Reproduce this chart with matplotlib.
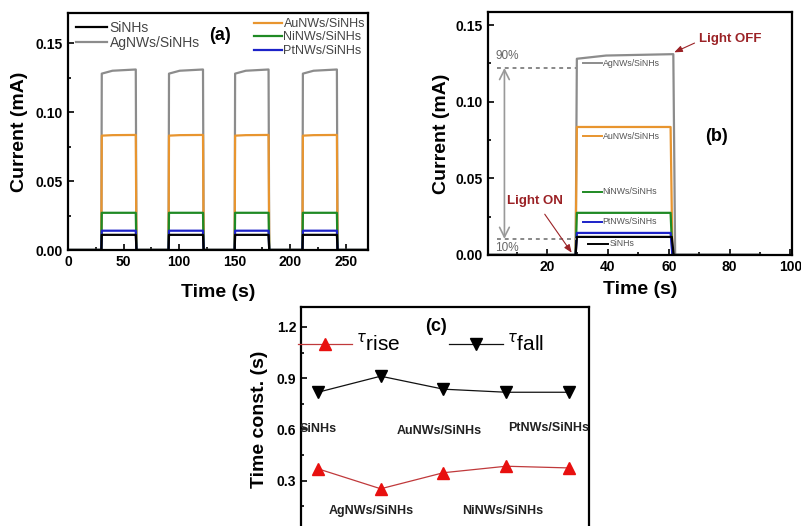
import matplotlib
matplotlib.use("Agg")
import matplotlib.pyplot as plt
from matplotlib.ticker import MultipleLocator, FixedLocator

plt.rcParams['font.family'] = ['Liberation Sans', 'DejaVu Sans']

# ---- data ----
samples = ["SiNHs", "AgNWs/SiNHs", "AuNWs/SiNHs", "NiNWs/SiNHs", "PtNWs/SiNHs"]
colors = ["#000000", "#8c8c8c", "#e8952f", "#1f8a24", "#1c22c8"]

# (a) repeated on/off cycles
on_times_a = [30, 90.5, 150, 211]
off_times_a = [61, 121.5, 180.5, 242]
level_start_a = [0.011, 0.128, 0.083, 0.027, 0.014]
level_end_a = [0.011, 0.131, 0.0835, 0.027, 0.014]
t_end_a = 270

# (b) single cycle
on_time_b = 29.4
off_times_b = [61.0, 61.5, 60.6, 60.6, 60.6]
level_start_b = [0.0118, 0.128, 0.0835, 0.0275, 0.0144]
level_end_b = [0.0118, 0.131, 0.0835, 0.0275, 0.0144]
t_end_b = 90
label_y_b = [0.0072, 0.125, 0.0776, 0.0411, 0.0216]
level_90 = 0.122
level_10 = 0.0105

# (c) time constants
x_c = [1, 2, 3, 4, 5]
tau_rise = [0.37, 0.253, 0.347, 0.385, 0.375]
tau_fall = [0.818, 0.912, 0.836, 0.818, 0.818]
cat_x = [1.0, 1.85, 2.94, 3.95, 4.68]
cat_y = [0.60, 0.12, 0.59, 0.125, 0.61]
cat_labels = ["SiNHs", "AgNWs/SiNHs", "AuNWs/SiNHs", "NiNWs/SiNHs", "PtNWs/SiNHs"]


def pulse_curve(ons, offs, lo, hi, t_end):
    t, y = [0], [0]
    for on, off in zip(ons, offs):
        t += [on, on + 0.4, on + 10, off, off + 0.6]
        y += [0, lo, hi - 0.3 * (hi - lo), hi, 0]
    t.append(t_end)
    y.append(0)
    return t, y


def style_axes(ax):
    for sp in ax.spines.values():
        sp.set_linewidth(1.6)
    ax.tick_params(which='both', direction='in', width=1.2, labelsize=10)
    ax.tick_params(which='major', length=4)
    ax.tick_params(which='minor', length=2.5)
    for lab in ax.get_xticklabels() + ax.get_yticklabels():
        lab.set_fontweight('bold')


fig = plt.figure(figsize=(8.01, 5.26), dpi=100)

# ---------------- (a) ----------------
ax_a = fig.add_axes([68 / 801, 1 - 250 / 526, 300 / 801, 237 / 526])
order = [1, 2, 3, 4, 0]
handles = {}
for i in order:
    t, y = pulse_curve(on_times_a, off_times_a, level_start_a[i], level_end_a[i], t_end_a)
    handles[i], = ax_a.plot(t, y, color=colors[i], lw=1.6, label=samples[i])
ax_a.set_xlim(0, 270)
ax_a.set_ylim(0, 0.172)
ax_a.xaxis.set_major_locator(MultipleLocator(50))
ax_a.xaxis.set_minor_locator(MultipleLocator(25))
ax_a.yaxis.set_major_locator(MultipleLocator(0.05))
ax_a.yaxis.set_minor_locator(MultipleLocator(0.025))
ax_a.yaxis.set_major_formatter(matplotlib.ticker.FormatStrFormatter('%.2f'))
style_axes(ax_a)
ax_a.set_xlabel("Time (s)", fontsize=14, fontweight='bold', labelpad=11)
ax_a.set_ylabel("Current (mA)", fontsize=14, fontweight='bold', labelpad=6)
leg1 = ax_a.legend([handles[0], handles[1]], [samples[0], samples[1]],
                   loc='upper left', bbox_to_anchor=(0.025, 0.968), frameon=False,
                   fontsize=10, handlelength=2.3, handletextpad=0.15,
                   labelspacing=0.1, borderpad=0, borderaxespad=0)
for tx in leg1.get_texts():
    tx.set_color('#444444')
ax_a.add_artist(leg1)
leg2 = ax_a.legend([handles[2], handles[3], handles[4]], samples[2:],
                   loc='upper right', bbox_to_anchor=(0.99, 0.979), frameon=False,
                   fontsize=9, handlelength=2.3, handletextpad=0.1,
                   labelspacing=0.12, borderpad=0, borderaxespad=0)
for tx in leg2.get_texts():
    tx.set_color('#444444')
ax_a.text(0.507, 0.905, "(a)", transform=ax_a.transAxes, ha='center', va='center',
          fontsize=13, fontweight='bold')

# ---------------- (b) ----------------
ax_b = fig.add_axes([488 / 801, 1 - 255 / 526, 304 / 801, 243 / 526])
for i in order:
    t, y = pulse_curve([on_time_b], [off_times_b[i]], level_start_b[i], level_end_b[i], t_end_b)
    ax_b.plot(t, y, color=colors[i], lw=1.6)
    ax_b.plot([31.8, 38.0] if i else [33.5, 40.0], [label_y_b[i]] * 2, color=colors[i], lw=1.4)
    ax_b.text(38.3 if i else 40.5, label_y_b[i], samples[i], fontsize=6.3, color='#555555',
              va='center', ha='left')
ax_b.set_xlim(0.6, 100.5)
ax_b.set_ylim(0, 0.1585)
ax_b.xaxis.set_major_locator(MultipleLocator(20))
ax_b.xaxis.set_minor_locator(MultipleLocator(10))
ax_b.yaxis.set_major_locator(MultipleLocator(0.05))
ax_b.yaxis.set_minor_locator(MultipleLocator(0.025))
ax_b.yaxis.set_major_formatter(matplotlib.ticker.FormatStrFormatter('%.2f'))
style_axes(ax_b)
ax_b.set_xlabel("Time (s)", fontsize=14, fontweight='bold', labelpad=5)
ax_b.set_ylabel("Current (mA)", fontsize=14, fontweight='bold', labelpad=4)

ax_b.plot([3.4, on_time_b], [level_90, level_90], ls=(0, (2, 2)), color='#888888', lw=1.4)
ax_b.plot([3.4, on_time_b], [level_10, level_10], ls=(0, (2, 2)), color='#888888', lw=1.4)
ax_b.annotate('', xy=(6, level_90), xytext=(6, level_10),
              arrowprops=dict(arrowstyle='<->,head_length=0.7,head_width=0.35',
                              color='#999999', lw=1.2, shrinkA=0, shrinkB=0))
ax_b.text(3.0, 0.1295, "90%", fontsize=8.5, color='#666666', va='center', ha='left')
ax_b.text(3.0, 0.0045, "10%", fontsize=8.5, color='#666666', va='center', ha='left')
ax_b.annotate("Light ON", xy=(28.1, 0.0015), xytext=(7.0, 0.0353),
              fontsize=9.5, fontweight='bold', color='#9b2226', va='center', ha='left',
              arrowprops=dict(arrowstyle='-|>,head_length=0.5,head_width=0.2',
                              color='#9b2226', lw=0.8, shrinkA=4, shrinkB=0))
ax_b.annotate("Light OFF", xy=(61.8, 0.1322), xytext=(69.8, 0.141),
              fontsize=9.5, fontweight='bold', color='#9b2226', va='center', ha='left',
              arrowprops=dict(arrowstyle='-|>,head_length=0.5,head_width=0.2',
                              color='#9b2226', lw=0.8, shrinkA=1, shrinkB=0,
                              relpos=(0, 0.3)))
ax_b.text(75.6, 0.077, "(b)", fontsize=13, fontweight='bold', ha='center', va='center')

# ---------------- (c) ----------------
ax_c = fig.add_axes([301 / 801, 1 - 532 / 526, 288 / 801, 225 / 526])
ax_c.plot(x_c, tau_rise, color='#c0393b', lw=0.9, marker='^', ms=9,
          mfc='#e8100f', mec='#e8100f', label=r'$^{\tau}$rise')
ax_c.plot(x_c, tau_fall, color='#111111', lw=0.9, marker='v', ms=9,
          mfc='#000000', mec='#000000', label=r'$^{\tau}$fall')
for x, y, s in zip(cat_x, cat_y, cat_labels):
    ax_c.text(x, y, s, fontsize=9, fontweight='bold', color='#222222',
              ha='center', va='center')
ax_c.set_xlim(0.73, 5.32)
ax_c.set_ylim(0, 1.317)
ax_c.set_xticks(x_c)
ax_c.set_xticklabels([])
ax_c.yaxis.set_major_locator(FixedLocator([0.3, 0.6, 0.9, 1.2]))
ax_c.yaxis.set_minor_locator(FixedLocator([0.15, 0.45, 0.75, 1.05]))
style_axes(ax_c)
ax_c.set_ylabel("Time const. (s)", fontsize=14, fontweight='bold', labelpad=6)
ax_c.legend(loc='upper left', bbox_to_anchor=(-0.01, 0.885), ncol=2, frameon=False,
            fontsize=15, handlelength=2.6, handletextpad=0.2, columnspacing=2.3,
            borderpad=0, borderaxespad=0)
ax_c.text(2.88, 1.2, "(c)", fontsize=13, fontweight='bold', ha='center', va='center')

fig.savefig("out.png", dpi=100)
